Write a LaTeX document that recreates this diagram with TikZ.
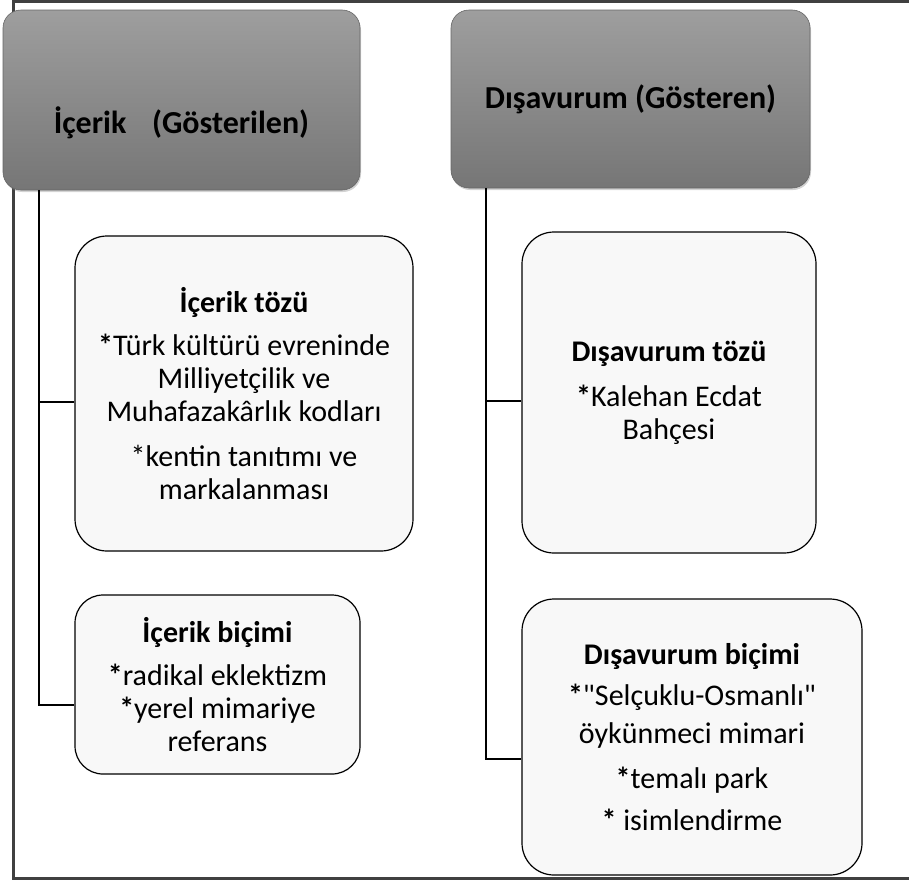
\documentclass[tikz,border=0pt]{standalone}
\usepackage{fontspec}
\setmainfont{Carlito}[Ligatures=TeXOff]
\usepackage{tikz}
\usetikzlibrary{positioning, calc, shadows}
\definecolor{headtop}{RGB}{158,158,158}
\definecolor{headbot}{RGB}{118,118,118}
\definecolor{frameclr}{RGB}{64,64,64}
\definecolor{boxfill}{RGB}{248,248,248}

\begin{document}
\begin{tikzpicture}
    [x=1pt, y=-1pt,
      head/.style={draw=gray!80!black, line width=0.6pt, rounded corners=18pt,
        top color=headtop, bottom color=headbot,
        drop shadow={opacity=0.35, shadow xshift=1pt, shadow yshift=-2pt}},
      headtxt/.style={font=\fontsize{32}{38}\selectfont\bfseries, align=center},
      leaf/.style={draw=black, line width=1.2pt, fill=boxfill, rounded corners=32pt,
        align=center, font=\fontsize{30}{33}\selectfont},
      link/.style={draw=black, line width=1.8pt}]

    \useasboundingbox (0,0) rectangle (909,881);
    \draw[frameclr, line width=3pt] (909,1) -- (13.5,1) -- (13.5,878.5) -- (909,878.5);

    \node[head, minimum width=357pt, minimum height=180pt] (hcontent) at (181.5,100) {};
    \node[headtxt] (tcontent) at ([yshift=-23pt]hcontent.center) {İçerik\hspace{0.8em}(Gösterilen)};

    \node[head, minimum width=359pt, minimum height=178pt] (hexpr) at (630.5,99) {};
    \node[headtxt] (texpr) at (hexpr.center) {Dışavurum (Gösteren)};

    \node[leaf, minimum width=338pt, minimum height=315pt] (substc) at (244,393.5)
      {\textbf{İçerik tözü}\\[10pt]
       \textbf{*}Türk kültürü evreninde\\ Milliyetçilik ve\\ Muhafazakârlık kodları\\[12pt]
       *kentin tanıtımı ve\\ markalanması};

    \node[leaf, rounded corners=28pt, minimum width=285pt, minimum height=179pt] (formc) at (217.5,684.5)
      {\textbf{İçerik biçimi}\\[10pt]
       \textbf{*}radikal eklektizm\\ \textbf{*}yerel mimariye\\ referans};

    \node[leaf, minimum width=294pt, minimum height=321pt] (substx) at (669,392.5)
      {\textbf{Dışavurum tözü}\\[12pt]
       \textbf{*}Kalehan Ecdat\\ Bahçesi};

    \node[leaf, minimum width=340pt, minimum height=276pt] (formx) at (692,737)
      {\textbf{Dışavurum biçimi}\\[8pt]
       \textbf{*}"Selçuklu-Osmanlı"\\[5pt] öykünmeci mimari\\[12pt]
       \textbf{*}temalı park\\[9pt] \textbf{*} isimlendirme};

    \draw[link] ([xshift=36pt]hcontent.south west) |- ([yshift=-8.5pt]substc.west);
    \draw[link] ([xshift=36pt]hcontent.south west) |- ([yshift=-20.5pt]formc.west);
    \draw[link] ([xshift=35pt]hexpr.south west) |- ([yshift=-8.5pt]substx.west);
    \draw[link] ([xshift=35pt]hexpr.south west) |- ([yshift=-22pt]formx.west);
  \end{tikzpicture}
\end{document}
